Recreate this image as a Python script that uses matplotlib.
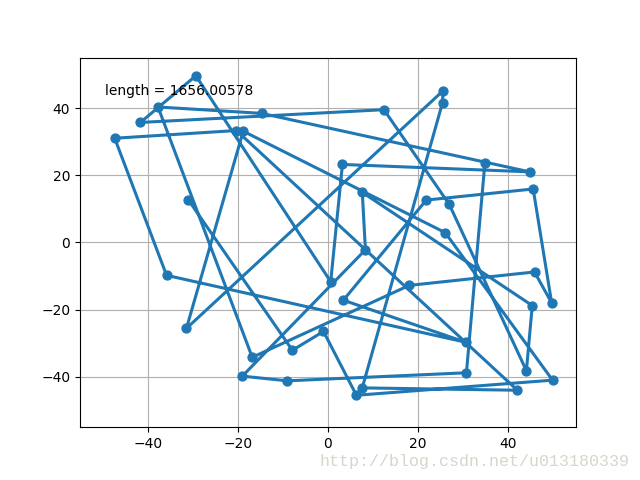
"""Shortest route found, drawn as a line through the cities."""
import matplotlib
matplotlib.use("Agg")
import matplotlib.pyplot as plt

route_x = [-31, -7.9, -1, 6.3, 49.8, 26, -18.8, -31.4, 25.5, 25.4, 7.6, 42, -20.3,
           -47.3, -35.8, 30.5, 3.4, 21.8, 45.5, 49.6, 45.8, 18, -16.8, -37.7, -14.7,
           44.7, 3.2, 0.6, -29.3, -41.6, 12.4, 26.9, 44, 45.3, 7.6, 8.3, -19, -9,
           30.7, 34.8]
route_y = [12.7, -32.1, -26.5, -45.5, -41, 2.9, 33.1, -25.6, 45.1, 41.6, -43.3, -44, 33.3,
           31, -9.8, -29.7, -17.2, 12.6, 15.9, -18, -8.8, -12.8, -34.2, 40.3, 38.4,
           21, 23.2, -11.7, 49.6, 35.7, 39.5, 11.3, -38.2, -18.8, 14.9, -2.2, -39.8, -41.2,
           -38.8, 23.7]
route_length = 1656.00578
watermark = "http://blog.csdn.net/u013180339"

fig, ax = plt.subplots(figsize=(6.4, 4.8), dpi=100)
ax.plot(route_x, route_y, "o-", linewidth=2.2, markersize=6.4)
ax.text(-49.5, 44, "length = %s" % route_length)
ax.set_xlim(-55, 55)
ax.set_ylim(-55, 55)
ax.grid(True)

# blog watermark in the lower right corner
fig.text(0.984, 0.03, watermark, ha="right", va="baseline", fontsize=12,
         family="Liberation Mono", color="#d6d6cc")

fig.savefig("out.png", dpi=100)
